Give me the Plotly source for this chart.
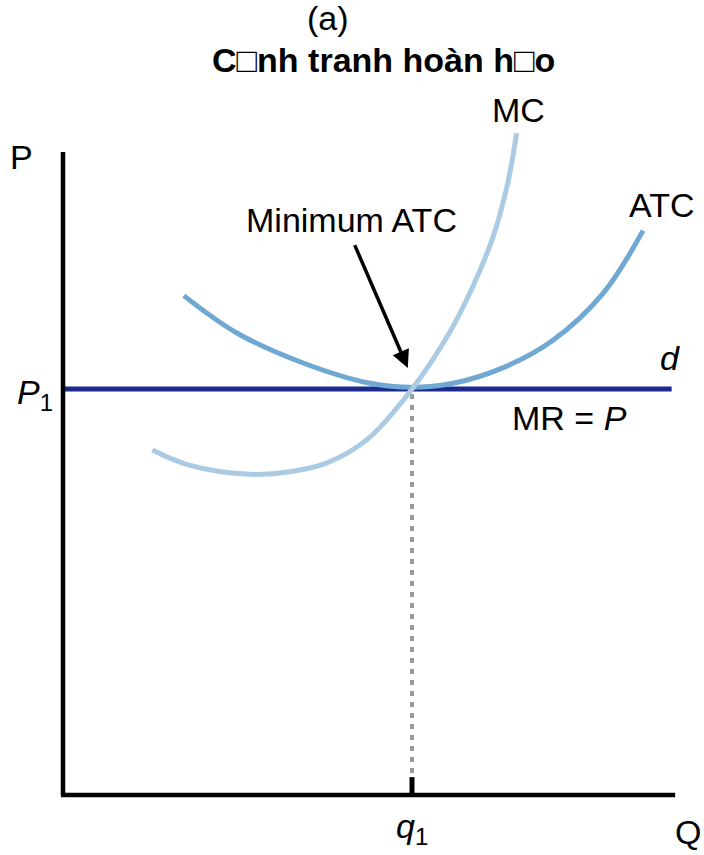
import plotly.graph_objects as go

# ---- data (economic units: Q on x, P on y) ----
q1 = 5.0
P1 = 5.0
q_max = 8.77
p_max = 7.92
d_end = 8.72

atc_q = [1.73, 2.49, 3.44, 4.40, 5.00, 5.59, 6.30, 7.02, 7.74, 8.31]
atc_p = [6.15, 5.69, 5.32, 5.07, 5.02, 5.07, 5.26, 5.60, 6.18, 6.95]

mc_q = [1.28, 1.82, 2.68, 3.25, 3.78, 4.36, 5.00, 5.54, 5.87, 6.16, 6.36, 6.50]
mc_p = [4.25, 4.06, 3.95, 3.98, 4.09, 4.38, 5.00, 5.70, 6.26, 6.87, 7.49, 8.15]

FONT = "Liberation Sans"
NAVY = "#1b2a8c"
ATC_C = "#6fa8d2"
MC_C = "#abcbe4"

fig = go.Figure()

# dotted guide at q1
fig.add_trace(go.Scatter(x=[q1, q1], y=[0, P1], mode="lines",
                         line=dict(color="#9a9a9a", width=4, dash="5px,6px"),
                         hoverinfo="skip", showlegend=False))
# demand / MR = P
fig.add_trace(go.Scatter(x=[0, d_end], y=[P1, P1], mode="lines",
                         line=dict(color=NAVY, width=5),
                         hoverinfo="skip", showlegend=False))
# ATC
fig.add_trace(go.Scatter(x=atc_q, y=atc_p, mode="lines",
                         line=dict(color=ATC_C, width=5, shape="spline", smoothing=1.0),
                         hoverinfo="skip", showlegend=False))
# MC
fig.add_trace(go.Scatter(x=mc_q, y=mc_p, mode="lines",
                         line=dict(color=MC_C, width=5, shape="spline", smoothing=1.0),
                         hoverinfo="skip", showlegend=False))

# axes lines and tick
fig.add_shape(type="line", x0=0, y0=0, x1=0, y1=p_max, line=dict(color="black", width=4.5))
fig.add_shape(type="line", x0=-0.03, y0=0, x1=q_max, y1=0, line=dict(color="black", width=4.5))
fig.add_shape(type="line", x0=q1, y0=0, x1=q1, y1=0.22, line=dict(color="black", width=5))

FS = 34
def txt(x, y, s, size=FS, xanchor="center", yanchor="middle"):
    fig.add_annotation(x=x, y=y, text=s, showarrow=False, xanchor=xanchor, yanchor=yanchor,
                       font=dict(family=FONT, size=size, color="black"))

txt(3.80, 9.57, "(a)")
txt(4.59, 9.05, "<b>C\u25a1nh tranh hoàn h\u25a1o</b>")
txt(6.52, 8.44, "MC")
txt(8.58, 7.27, "ATC")
txt(4.14, 7.08, "Minimum ATC")
txt(8.70, 5.38, "<i>d</i>")
txt(7.26, 4.64, "MR = <i>P</i>")
txt(-0.60, 7.86, "P")
txt(-0.12, 4.93, "<i>P</i><sub>1</sub>", xanchor="right")
txt(q1, -0.41, "<i>q</i><sub>1</sub>")
txt(8.95, -0.46, "Q")

# arrow to minimum ATC
fig.add_annotation(x=4.94, y=5.26, ax=4.17, ay=6.79, xref="x", yref="y", axref="x", ayref="y",
                   text="", showarrow=True, arrowhead=2, arrowsize=1.0, arrowwidth=3.5,
                   arrowcolor="black")

# full 704x855 figure, axes origin at pixel (63, 795)
fig.update_xaxes(range=[-0.9026, 9.1834], visible=False, fixedrange=True)
fig.update_yaxes(range=[-0.7389, 9.7906], visible=False, fixedrange=True)
fig.update_layout(width=704, height=855, autosize=False,
                  margin=dict(l=0, r=0, t=0, b=0, pad=0),
                  paper_bgcolor="white", plot_bgcolor="white",
                  font=dict(family=FONT))

fig.write_html("out.html", config={"displayModeBar": False},
               post_script="document.body.style.margin='0';document.body.style.overflow='hidden';")
